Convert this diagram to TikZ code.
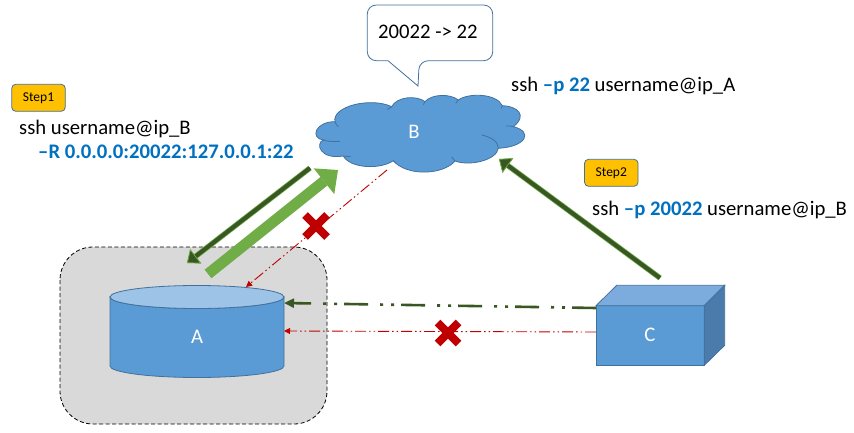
\documentclass[tikz,border=0pt]{standalone}
\usepackage{fontspec}
\setmainfont{Carlito}
\usetikzlibrary{arrows.meta}
\definecolor{sblue}{HTML}{5B9BD5}
\definecolor{sedge}{HTML}{41719C}
\definecolor{stop}{HTML}{9DC3E6}
\definecolor{ctop}{HTML}{7CACDD}
\definecolor{cside}{HTML}{4A7BAB}
\definecolor{lgreen}{HTML}{70AD47}
\definecolor{dgreen}{HTML}{385723}
\definecolor{dred}{HTML}{C00000}
\definecolor{cmd}{HTML}{0070C0}
\definecolor{amber}{HTML}{FFC000}
\definecolor{panel}{HTML}{D9D9D9}
\tikzset{
  solid shape/.style={fill=sblue,draw=sedge,line width=.8pt},
  white label/.style={text=white,font=\fontsize{20.7}{22}\selectfont,inner sep=0pt},
  command/.style={anchor=base west,inner sep=0pt,font=\fontsize{20.7}{23}\selectfont},
  step tag/.style={fill=amber,draw=sedge,line width=.8pt,rounded corners=4pt,minimum width=53.5pt,minimum height=27pt,inner sep=0pt,font=\fontsize{13.5}{15}\selectfont},
  dark arrow/.style={draw=dgreen,line width=4pt,preaction={draw=lgreen,line width=5.5pt},-{Triangle[length=11pt,width=18pt,fill=dgreen,color=lgreen,line width=.7pt]}},
  wide arrow/.style={draw=lgreen,line width=11pt,-{Triangle[length=18pt,width=33pt,fill=lgreen,color=lgreen,line width=0pt]}},
  green trace/.style={draw=dgreen,line width=2.6pt,dash pattern=on 24pt off 7pt on 3pt off 8pt on 3pt off 12pt,-{Triangle[length=10pt,width=9pt,fill=dgreen]}},
  red trace/.style={draw=dred,line width=.9pt,dash pattern=on 11pt off 3pt on 1.5pt off 3pt on 1.5pt off 3pt,-{Triangle[length=6pt,width=6pt,fill=dred]}},
  red cross/.style={draw=dred,line width=8pt},
}
\begin{document}
\begin{tikzpicture}[x=1pt,y=-1pt]
\useasboundingbox (0,0) rectangle (854,433);
% panel
\draw[fill=panel,draw=black,line width=.8pt,dash pattern=on 4pt off 2.5pt,rounded corners=33pt] (60,247) rectangle (327,424);
% cylinder
\path[solid shape] (110,297) -- (110,366) arc[start angle=180,end angle=360,x radius=87pt,y radius=11.5pt] -- (284,297) arc[start angle=360,end angle=180,x radius=87pt,y radius=11.5pt] -- cycle;
\path[fill=stop,draw=sedge,line width=.8pt] (197,297) ellipse[x radius=87pt,y radius=11.5pt];
\node[white label] (A) at (197,337) {A};
% cube
\path[solid shape] (596,305.7) rectangle (704.3,365.3);
\path[fill=ctop,draw=sedge,line width=.8pt] (596,305.7) -- (616.7,285.3) -- (724.7,285.3) -- (704.3,305.7) -- cycle;
\path[fill=cside,draw=sedge,line width=.8pt] (704.3,305.7) -- (724.7,285.3) -- (724.7,345.3) -- (704.3,365.3) -- cycle;
\node[white label] (C) at (650,335) {C};
% cloud
\begin{scope}[shift={(300,0)},x=.3333pt,y=-.3333pt]
\path[solid shape]
 (105,365) .. controls (95,320) and (210,290) .. (275,320)
 .. controls (290,290) and (350,285) .. (375,305)
 .. controls (395,282) and (450,280) .. (475,300)
 .. controls (505,278) and (590,280) .. (607,317)
 .. controls (650,318) and (685,345) .. (640,380)
 .. controls (700,395) and (680,440) .. (595,445)
 .. controls (590,480) and (510,500) .. (465,483)
 .. controls (430,525) and (320,530) .. (280,482)
 .. controls (240,510) and (150,505) .. (130,468)
 .. controls (60,480) and (45,430) .. (70,420)
 .. controls (30,415) and (45,365) .. (105,365) -- cycle;
\draw[sedge,line width=.8pt] (545,405) .. controls (575,412) and (595,425) .. (595,445);
\draw[sedge,line width=.8pt] (70,420) .. controls (85,425) and (100,425) .. (120,424);
\draw[sedge,line width=.8pt] (130,468) .. controls (138,470) and (145,470) .. (152,469);
\draw[sedge,line width=.8pt] (105,365) .. controls (107,372) and (110,375) .. (115,380);
\draw[sedge,line width=.8pt] (275,320) .. controls (272,323) and (268,325) .. (262,328);
\draw[sedge,line width=.8pt] (375,305) .. controls (373,308) and (372,311) .. (370,314);
\draw[sedge,line width=.8pt] (475,300) .. controls (472,303) and (470,306) .. (467,310);
\draw[sedge,line width=.8pt] (607,317) .. controls (607,320) and (606,322) .. (604,325);
\draw[sedge,line width=.8pt] (640,380) .. controls (632,377) and (625,378) .. (618,378);
\draw[sedge,line width=.8pt] (465,483) .. controls (460,478) and (458,474) .. (455,470);
\draw[sedge,line width=.8pt] (280,482) .. controls (283,485) and (285,488) .. (288,490);
\end{scope}
\node[white label] (B) at (414,132) {B};
% callout
\path[fill=white,draw=sedge,line width=.8pt,rounded corners=9pt] (367.3,5) -- (492.7,5) -- (492.7,60.7) -- (419.3,60.7) [sharp corners] -- (418,86) -- (388,60.7) [rounded corners=9pt] -- (367.3,60.7) -- cycle;
\node[anchor=base west,inner sep=0pt,font=\fontsize{20.7}{23}\selectfont] (rule) at (378,39) {20022 -> 22};
% tags
\node[step tag] (s1) at (38.5,97.8) {Step1};
\node[step tag] (s2) at (611.3,172.8) {Step2};
% commands
\node[command] (c1) at (511,92) {ssh \textcolor{cmd}{\textbf{–p 22}} username@ip\_A};
\node[command] (c2) at (19,135) {ssh username@ip\_B};
\node[command,text=cmd,font=\fontsize{20.7}{23}\selectfont\bfseries] (c3) at (38,159) {–R 0.0.0.0:20022:127.0.0.1:22};
\node[command] (c4) at (592,215) {ssh \textcolor{cmd}{\textbf{–p 20022}} username@ip\_B};
% connector ends
\coordinate (bl) at (310,168);
\coordinate (atop) at (187,263);
\coordinate (aout) at (208,274);
\coordinate (bin) at (338,170);
\coordinate (cout) at (660,278);
\coordinate (bin2) at (499,159);
\coordinate (cleft1) at (596,308);
\coordinate (aright1) at (284,303);
\coordinate (cleft2) at (596,332);
\coordinate (aright2) at (284,331);
\coordinate (bred) at (387,170);
\coordinate (ared) at (246,287);
% connectors
\draw[red trace] (bred) -- (ared);
\draw[red trace] (cleft2) -- (aright2);
\draw[green trace] (cleft1) -- (aright1);
\draw[dark arrow] (bl) -- (atop);
\draw[wide arrow] (aout) -- (bin);
\draw[dark arrow] (cout) -- (bin2);
% crosses
\draw[red cross] (305,215) -- (327,237) (327,215) -- (305,237);
\draw[red cross] (437.5,322.5) -- (458.5,343.5) (458.5,322.5) -- (437.5,343.5);
\end{tikzpicture}
\end{document}
